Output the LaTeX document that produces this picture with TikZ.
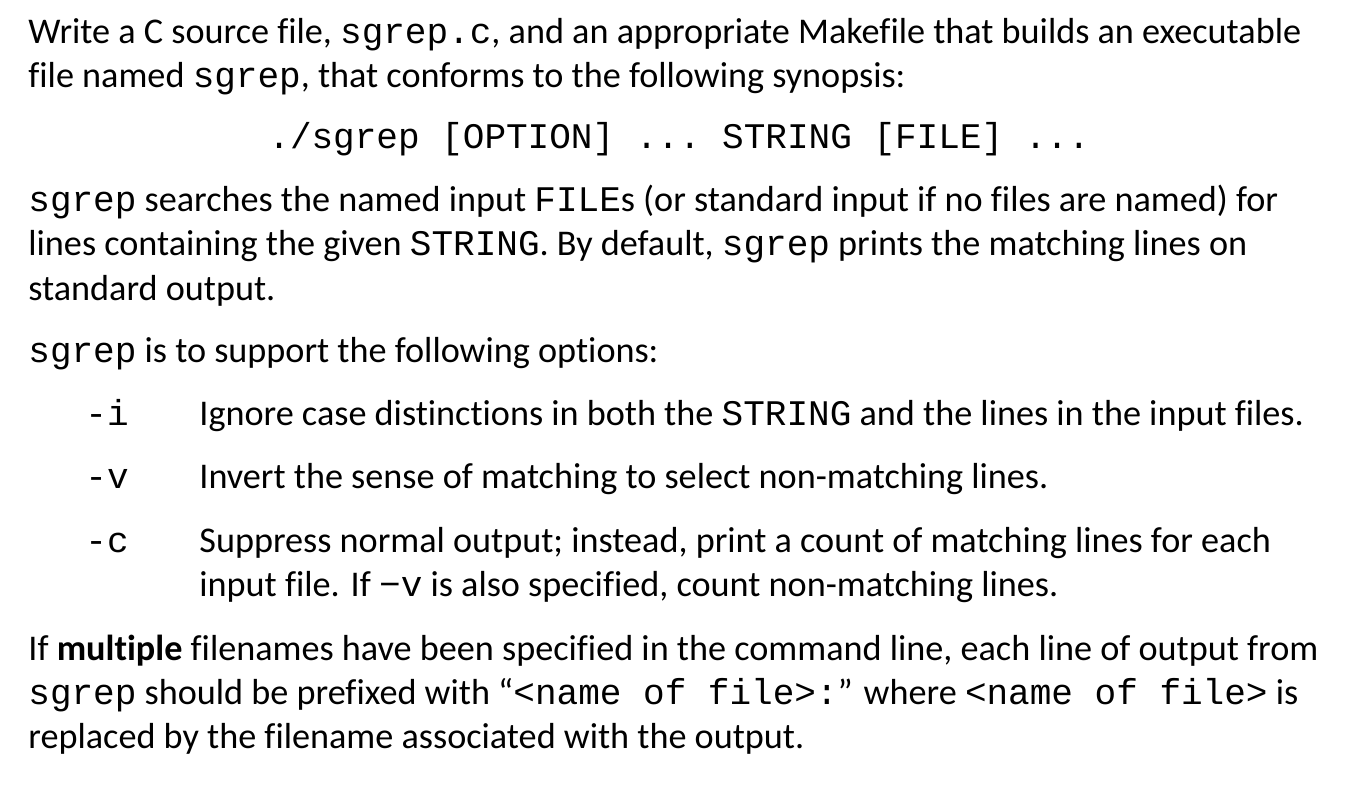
\documentclass[tikz,border=0pt]{standalone}
\usepackage{fontspec}
\setmainfont{Carlito}[Ligatures=NoCommon]
\setmonofont{Liberation Mono}[Scale=0.995]
\begin{document}
\begin{tikzpicture}[x=0.5pt,y=-0.5pt,
  ln/.style={anchor=base west,inner sep=0pt,font=\fontsize{18.1}{21}\selectfont}]
\useasboundingbox (0,0) rectangle (1354,784);
\newcommand{\cc}[1]{\texttt{#1}}
\node[ln] (l1) at (28,43) {Write a C source file, \cc{sgrep.c}, and an appropriate Makefile that builds an executable};
\node[ln] (l2) at (28,87) {file named \cc{sgrep}, that conforms to the following synopsis:};
\node[ln] (l3) at (268,148) {\cc{./sgrep [OPTION] ... STRING [FILE] ...}};
\node[ln] (l4) at (28,211) {\cc{sgrep} searches the named input \cc{FILE}s (or standard input if no files are named) for};
\node[ln] (l5) at (28,255) {lines containing the given \cc{STRING}. By default, \cc{sgrep} prints the matching lines on};
\node[ln] (l6) at (28,300) {standard output.};
\node[ln] (l7) at (28,362) {\cc{sgrep} is to support the following options:};
\node[ln] (o1) at (85,425) {\cc{-i}};
\node[ln] (d1) at (199,425) {Ignore case distinctions in both the \cc{STRING} and the lines in the input files.};
\node[ln] (o2) at (85,488) {\cc{-v}};
\node[ln] (d2) at (199,488) {Invert the sense of matching to select non-matching lines.};
\node[ln] (o3) at (85,552) {\cc{-c}};
\node[ln] (d3) at (199,552) {Suppress normal output; instead, print a count of matching lines for each};
\node[ln] (d4) at (199,596) {input file. If \cc{−v} is also specified, count non-matching lines.};
\node[ln] (m1) at (28,660) {If \textbf{multiple} filenames have been specified in the command line, each line of output from};
\node[ln] (m2) at (28,704) {\cc{sgrep} should be prefixed with “\cc{<name of file>:}” where \cc{<name of file>} is};
\node[ln] (m3) at (28,748) {replaced by the filename associated with the output.};
\end{tikzpicture}
\end{document}
